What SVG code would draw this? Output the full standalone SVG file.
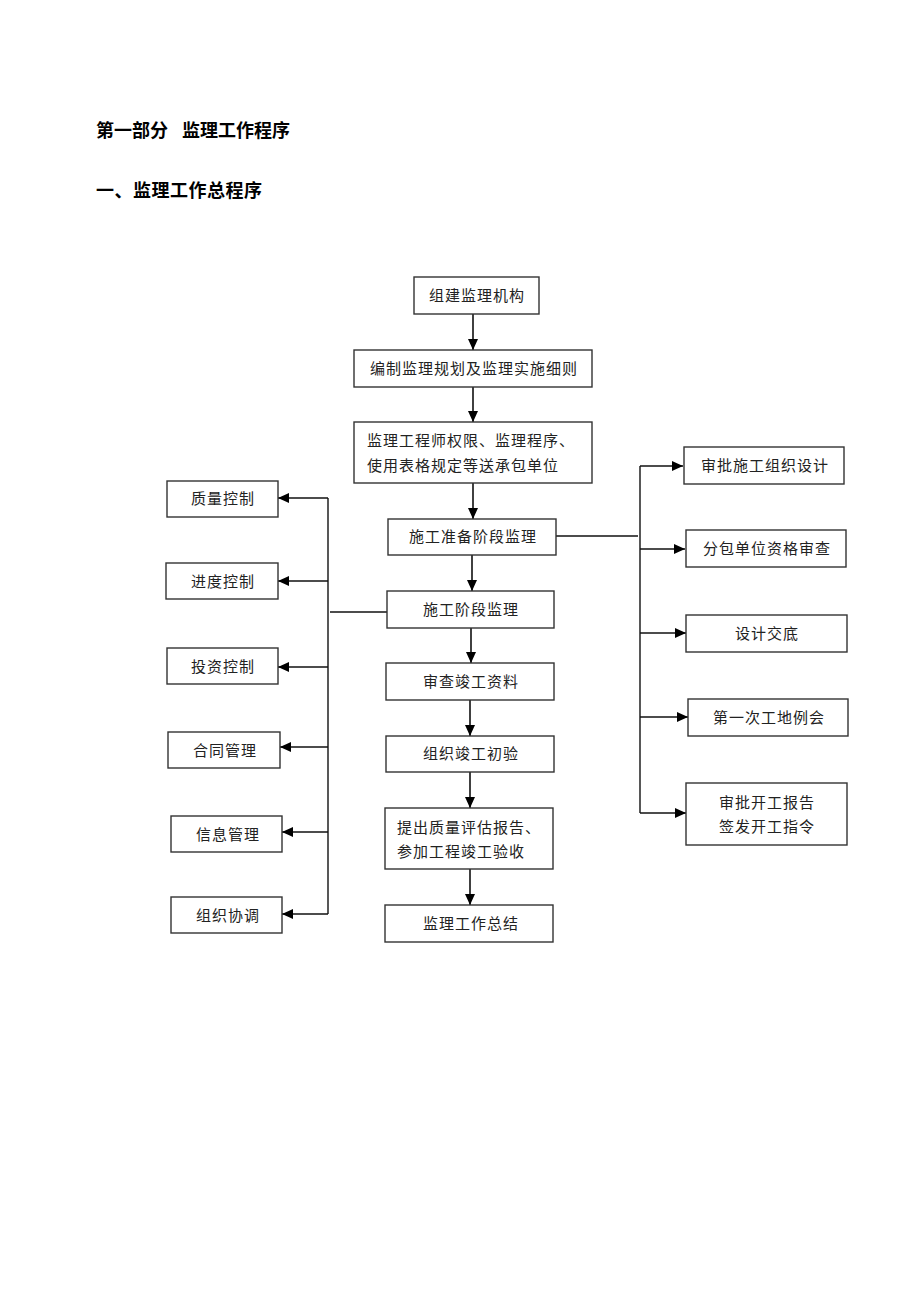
<svg xmlns="http://www.w3.org/2000/svg" width="920" height="1302" viewBox="0 0 920 1302">
<defs>
<marker id="ah" markerUnits="userSpaceOnUse" markerWidth="12" markerHeight="10" refX="11" refY="5" orient="auto">
<path d="M0,0 L11,5 L0,10 Z" fill="#000"/>
</marker>
<style>
.box{fill:#fff;stroke:#333;stroke-width:1.4}
.t{font-family:"Noto Sans CJK SC","Noto Sans",sans-serif;font-size:15px;fill:#222;letter-spacing:1px}
.c{text-anchor:middle}
.h{font-family:"Noto Sans CJK SC","Noto Sans",sans-serif;font-size:18px;font-weight:bold;fill:#000}
.ln{fill:none;stroke:#111;stroke-width:1.4}
.ar{fill:none;stroke:#111;stroke-width:1.6;marker-end:url(#ah)}
</style>
</defs>
<rect width="920" height="1302" fill="#fff"/>
<g id="titles">
<text class="h" x="96" y="137">第一部分<tspan x="182">监理工作程序</tspan></text>
<text class="h" x="96" y="197" letter-spacing="0.5">一、监理工作总程序</text>
</g>
<g id="connectors">
<line class="ar" x1="473" y1="314" x2="473" y2="350"/>
<line class="ar" x1="473" y1="387" x2="473" y2="422"/>
<line class="ar" x1="473" y1="483" x2="473" y2="519"/>
<line class="ar" x1="472" y1="555" x2="472" y2="591"/>
<line class="ar" x1="471" y1="628" x2="471" y2="663"/>
<line class="ar" x1="470" y1="700" x2="470" y2="736"/>
<line class="ar" x1="470" y1="772" x2="470" y2="808"/>
<line class="ar" x1="470" y1="869" x2="470" y2="905"/>
<line class="ln" x1="556" y1="536" x2="638" y2="536"/>
<line class="ln" x1="640" y1="466" x2="640" y2="813"/>
<line class="ar" x1="640" y1="466" x2="683" y2="466"/>
<line class="ar" x1="640" y1="549" x2="685" y2="549"/>
<line class="ar" x1="640" y1="633" x2="686" y2="633"/>
<line class="ar" x1="640" y1="717" x2="688" y2="717"/>
<line class="ar" x1="640" y1="813" x2="686" y2="813"/>
<line class="ln" x1="387" y1="612" x2="330" y2="612"/>
<line class="ln" x1="328" y1="498" x2="328" y2="914"/>
<line class="ar" x1="328" y1="498" x2="278" y2="498"/>
<line class="ar" x1="328" y1="581" x2="278" y2="581"/>
<line class="ar" x1="328" y1="667" x2="278" y2="667"/>
<line class="ar" x1="328" y1="747" x2="280" y2="747"/>
<line class="ar" x1="328" y1="832" x2="282" y2="832"/>
<line class="ar" x1="328" y1="914" x2="282" y2="914"/>
</g>
<g id="n1"><rect class="box" x="414" y="277" width="125" height="37"/><text class="t c" x="477" y="301">组建监理机构</text></g>
<g id="n2"><rect class="box" x="354" y="350" width="238" height="37"/><text class="t c" x="474" y="374">编制监理规划及监理实施细则</text></g>
<g id="n3"><rect class="box" x="354" y="422" width="238" height="61"/><text class="t" x="367" y="446">监理工程师权限、监理程序、</text><text class="t" x="367" y="471">使用表格规定等送承包单位</text></g>
<g id="n4"><rect class="box" x="388" y="519" width="168" height="36"/><text class="t c" x="473" y="542">施工准备阶段监理</text></g>
<g id="n5"><rect class="box" x="387" y="591" width="167" height="37"/><text class="t c" x="471" y="615">施工阶段监理</text></g>
<g id="n6"><rect class="box" x="386" y="663" width="168" height="37"/><text class="t c" x="471" y="687">审查竣工资料</text></g>
<g id="n7"><rect class="box" x="386" y="736" width="168" height="36"/><text class="t c" x="471" y="759">组织竣工初验</text></g>
<g id="n8"><rect class="box" x="385" y="808" width="168" height="61"/><text class="t" x="397" y="833">提出质量评估报告、</text><text class="t" x="397" y="857">参加工程竣工验收</text></g>
<g id="n9"><rect class="box" x="385" y="905" width="168" height="37"/><text class="t c" x="471" y="929">监理工作总结</text></g>
<g id="r1"><rect class="box" x="684" y="447" width="160" height="37"/><text class="t c" x="765" y="471">审批施工组织设计</text></g>
<g id="r2"><rect class="box" x="686" y="530" width="160" height="37"/><text class="t c" x="767" y="554">分包单位资格审查</text></g>
<g id="r3"><rect class="box" x="686" y="615" width="161" height="37"/><text class="t c" x="767" y="639">设计交底</text></g>
<g id="r4"><rect class="box" x="688" y="699" width="160" height="37"/><text class="t c" x="769" y="723">第一次工地例会</text></g>
<g id="r5"><rect class="box" x="686" y="783" width="161" height="62"/><text class="t c" x="767" y="808">审批开工报告</text><text class="t c" x="767" y="832">签发开工指令</text></g>
<g id="l1"><rect class="box" x="167" y="481" width="111" height="36"/><text class="t c" x="223" y="504">质量控制</text></g>
<g id="l2"><rect class="box" x="166" y="563" width="112" height="36"/><text class="t c" x="223" y="587">进度控制</text></g>
<g id="l3"><rect class="box" x="167" y="648" width="111" height="36"/><text class="t c" x="223" y="672">投资控制</text></g>
<g id="l4"><rect class="box" x="168" y="732" width="112" height="36"/><text class="t c" x="225" y="756">合同管理</text></g>
<g id="l5"><rect class="box" x="171" y="816" width="111" height="36"/><text class="t c" x="228" y="840">信息管理</text></g>
<g id="l6"><rect class="box" x="171" y="897" width="111" height="36"/><text class="t c" x="228" y="921">组织协调</text></g>
</svg>
